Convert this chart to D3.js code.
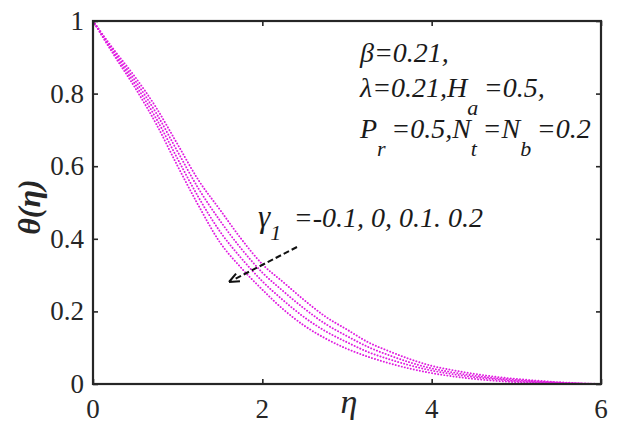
<!DOCTYPE html>
<html><head><meta charset="utf-8">
<script src="https://cdn.jsdelivr.net/npm/d3@7/dist/d3.min.js"></script>
</head>
<body style="margin:0">
<svg id="chart" width="621" height="435"></svg>
<script>
// ---- data ----
const eta = [0,0.25,0.5,0.75,1,1.25,1.5,1.75,2,2.25,2.5,2.75,3,3.25,3.5,3.75,4,4.25,4.5,4.75,5,5.25,5.5,5.75,6];
const gamma1Values = ["-0.1","0","0.1","0.2"];
const thetaGammaM01 = [1,0.92,0.845,0.76,0.66,0.56,0.48,0.40,0.33,0.28,0.23,0.185,0.15,0.115,0.09,0.068,0.05,0.038,0.028,0.02,0.014,0.009,0.005,0.002,0];
const thetaGamma0   = [1,0.915,0.835,0.745,0.64,0.537,0.45,0.373,0.307,0.255,0.207,0.165,0.132,0.102,0.079,0.059,0.043,0.032,0.023,0.016,0.011,0.007,0.004,0.0015,0];
const thetaGamma01  = [1,0.91,0.825,0.73,0.62,0.513,0.42,0.347,0.283,0.23,0.183,0.145,0.115,0.088,0.068,0.051,0.037,0.027,0.019,0.013,0.008,0.005,0.0025,0.001,0];
const thetaGamma02  = [1,0.905,0.815,0.715,0.60,0.49,0.39,0.32,0.26,0.205,0.16,0.125,0.097,0.075,0.057,0.042,0.03,0.021,0.014,0.009,0.005,0.003,0.0015,0.0005,0];
const xTicks = [0,2,4,6];
const yTicks = [0,0.2,0.4,0.6,0.8,1];

const series = [thetaGammaM01, thetaGamma0, thetaGamma01, thetaGamma02];

// ---- layout ----
const L = 93, R = 601, T = 21, B = 384;
const svg = d3.select("#chart");
const x = d3.scaleLinear().domain([0,6]).range([L,R]);
const y = d3.scaleLinear().domain([0,1]).range([B,T]);
const axisColor = "#262626";
const font = "Times New Roman";

// curves
const line = d3.line().x((d,i)=>x(eta[i])).y(d=>y(d)).curve(d3.curveMonotoneX);
svg.append("g").selectAll("path").data(series).join("path")
  .attr("d", line)
  .attr("fill","none")
  .attr("stroke","#e01ee0")
  .attr("stroke-width",1.9)
  .attr("stroke-linecap","round")
  .attr("stroke-dasharray","0.1 3");

// axes: draw ticks via d3 axes, labels as plain text from the scales
const tickLen = 5;
function styleAxis(g){
  g.select(".domain").remove();
  g.selectAll(".tick line").attr("stroke",axisColor).attr("stroke-width",1.6);
  g.selectAll(".tick text").remove();
}
svg.append("g").attr("transform",`translate(0,${B})`)
  .call(d3.axisBottom(x).tickValues(xTicks).tickSizeInner(-tickLen).tickSizeOuter(0)).call(styleAxis);
svg.append("g").attr("transform",`translate(0,${T})`)
  .call(d3.axisTop(x).tickValues(xTicks).tickSizeInner(-tickLen).tickSizeOuter(0)).call(styleAxis);
svg.append("g").attr("transform",`translate(${L},0)`)
  .call(d3.axisLeft(y).tickValues(yTicks).tickSizeInner(-tickLen).tickSizeOuter(0)).call(styleAxis);
svg.append("g").attr("transform",`translate(${R},0)`)
  .call(d3.axisRight(y).tickValues(yTicks).tickSizeInner(-tickLen).tickSizeOuter(0)).call(styleAxis);

svg.append("g").selectAll("text").data(xTicks).join("text")
  .attr("x",d=>x(d)).attr("y",B+34).attr("text-anchor","middle")
  .attr("font-family",font).attr("font-size",27).attr("fill",axisColor)
  .text(d=>d3.format("d")(d));
svg.append("g").selectAll("text").data(yTicks).join("text")
  .attr("x",L-9).attr("y",d=>y(d)+9).attr("text-anchor","end")
  .attr("font-family",font).attr("font-size",27).attr("fill",axisColor)
  .text(d=>d===0||d===1?d3.format("d")(d):d3.format(".1f")(d));

svg.append("rect").attr("x",L).attr("y",T).attr("width",R-L).attr("height",B-T)
  .attr("fill","none").attr("stroke",axisColor).attr("stroke-width",2.2);

// axis labels
svg.append("text").attr("x",349).attr("y",413).attr("text-anchor","middle")
  .attr("font-family",font).attr("font-style","italic").attr("font-size",34).attr("fill",axisColor).text("η");
svg.append("text").attr("transform","translate(40,207) rotate(-90)").attr("text-anchor","middle")
  .attr("font-family",font).attr("font-style","italic").attr("font-weight","bold").attr("font-size",32).attr("fill",axisColor).text("θ(η)");

// annotation block
function rich(xp, yp, parts, size, subSize, subDy){
  const t = svg.append("text").attr("x",xp).attr("y",yp)
    .attr("font-family",font).attr("font-style","italic").attr("font-size",size).attr("fill","#1a1a1a");
  parts.forEach(p=>{
    if(p.sub){
      t.append("tspan").attr("dy",subDy).attr("font-size",subSize).text(p.sub);
      t.append("tspan").attr("dy",-subDy).text("\u2009");
    } else t.append("tspan").text(p.t);
  });
  return t;
}
rich(360,62,[{t:"β=0.21,"}],28,22,18);
rich(360,97,[{t:"λ=0.21,H"},{sub:"a"},{t:"=0.5,"}],28,22,18);
rich(360,138,[{t:"P"},{sub:"r"},{t:"=0.5,N"},{sub:"t"},{t:"=N"},{sub:"b"},{t:"=0.2"}],28,22,18);
rich(258,227,[{t:"γ"},{sub:"1"},{t:" ="+gamma1Values[0]+", "+gamma1Values[1]+", "+gamma1Values[2]+". "+gamma1Values[3]}],28,22,13)
  .select("tspan").attr("font-size",31);

// arrow
const ax1 = 297, ay1 = 247, ax2 = 229, ay2 = 282;
svg.append("line").attr("x1",ax1).attr("y1",ay1).attr("x2",ax2+4).attr("y2",ay2-2)
  .attr("stroke","#111").attr("stroke-width",2).attr("stroke-dasharray","6 3");
const ang = Math.atan2(ay2-ay1, ax2-ax1);
const hl = 11, hw = 0.4;
svg.append("path").attr("d",`M${ax2},${ay2} L${ax2-hl*Math.cos(ang-hw)},${ay2-hl*Math.sin(ang-hw)} M${ax2},${ay2} L${ax2-hl*Math.cos(ang+hw)},${ay2-hl*Math.sin(ang+hw)}`)
  .attr("stroke","#111").attr("stroke-width",2).attr("fill","none");
</script>
</body></html>
